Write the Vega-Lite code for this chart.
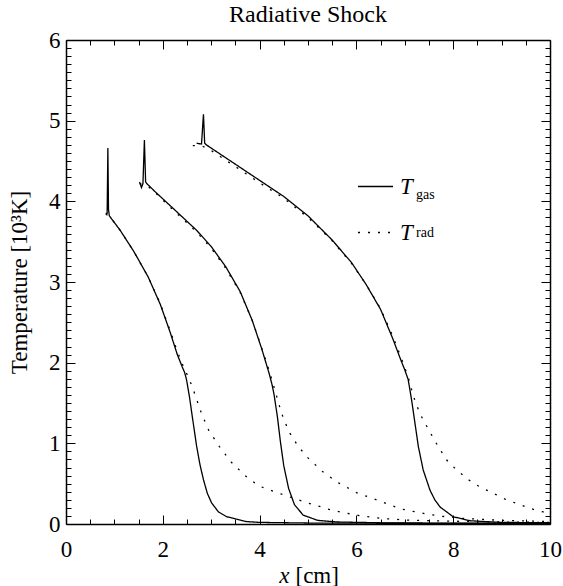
{
  "$schema": "https://vega.github.io/schema/vega-lite/v6.json",
  "width": 484,
  "height": 484,
  "autosize": {"type": "none"},
  "padding": {"left": 66, "top": 40, "right": 13, "bottom": 62},
  "background": "white",
  "title": {
    "text": "Radiative Shock",
    "font": "Liberation Serif",
    "fontSize": 24,
    "fontWeight": "normal",
    "color": "black",
    "baseline": "alphabetic",
    "offset": 14,
    "dy": 31
  },
  "data": {
    "values": [
      {"run": 1, "series": "T_gas", "x": 0.82, "y": 3.85},
      {"run": 1, "series": "T_gas", "x": 0.85, "y": 3.85},
      {"run": 1, "series": "T_gas", "x": 0.865, "y": 4.66},
      {"run": 1, "series": "T_gas", "x": 0.878, "y": 3.9},
      {"run": 1, "series": "T_gas", "x": 0.895, "y": 3.82},
      {"run": 1, "series": "T_gas", "x": 1.12, "y": 3.64},
      {"run": 1, "series": "T_gas", "x": 1.4, "y": 3.38},
      {"run": 1, "series": "T_gas", "x": 1.7, "y": 3.06},
      {"run": 1, "series": "T_gas", "x": 1.95, "y": 2.72},
      {"run": 1, "series": "T_gas", "x": 2.15, "y": 2.38},
      {"run": 1, "series": "T_gas", "x": 2.3, "y": 2.1},
      {"run": 1, "series": "T_gas", "x": 2.4, "y": 1.95},
      {"run": 1, "series": "T_gas", "x": 2.45, "y": 1.88},
      {"run": 1, "series": "T_gas", "x": 2.49, "y": 1.79},
      {"run": 1, "series": "T_gas", "x": 2.55, "y": 1.58},
      {"run": 1, "series": "T_gas", "x": 2.6, "y": 1.37},
      {"run": 1, "series": "T_gas", "x": 2.7, "y": 0.96},
      {"run": 1, "series": "T_gas", "x": 2.77, "y": 0.73},
      {"run": 1, "series": "T_gas", "x": 2.84, "y": 0.55},
      {"run": 1, "series": "T_gas", "x": 2.92, "y": 0.38},
      {"run": 1, "series": "T_gas", "x": 3.01, "y": 0.26},
      {"run": 1, "series": "T_gas", "x": 3.15, "y": 0.15},
      {"run": 1, "series": "T_gas", "x": 3.32, "y": 0.09},
      {"run": 1, "series": "T_gas", "x": 3.73, "y": 0.03},
      {"run": 1, "series": "T_gas", "x": 4.0, "y": 0.02},
      {"run": 1, "series": "T_gas", "x": 5.0, "y": 0.012},
      {"run": 1, "series": "T_gas", "x": 6.0, "y": 0.01},
      {"run": 1, "series": "T_gas", "x": 8.0, "y": 0.008},
      {"run": 1, "series": "T_gas", "x": 10.0, "y": 0.008},

      {"run": 1, "series": "T_rad", "x": 0.82, "y": 3.84},
      {"run": 1, "series": "T_rad", "x": 0.895, "y": 3.82},
      {"run": 1, "series": "T_rad", "x": 1.12, "y": 3.64},
      {"run": 1, "series": "T_rad", "x": 1.4, "y": 3.38},
      {"run": 1, "series": "T_rad", "x": 1.7, "y": 3.06},
      {"run": 1, "series": "T_rad", "x": 1.95, "y": 2.73},
      {"run": 1, "series": "T_rad", "x": 2.15, "y": 2.4},
      {"run": 1, "series": "T_rad", "x": 2.3, "y": 2.14},
      {"run": 1, "series": "T_rad", "x": 2.42, "y": 1.96},
      {"run": 1, "series": "T_rad", "x": 2.52, "y": 1.83},
      {"run": 1, "series": "T_rad", "x": 2.61, "y": 1.7},
      {"run": 1, "series": "T_rad", "x": 2.8, "y": 1.37},
      {"run": 1, "series": "T_rad", "x": 2.95, "y": 1.16},
      {"run": 1, "series": "T_rad", "x": 3.17, "y": 0.96},
      {"run": 1, "series": "T_rad", "x": 3.41, "y": 0.77},
      {"run": 1, "series": "T_rad", "x": 3.7, "y": 0.6},
      {"run": 1, "series": "T_rad", "x": 3.99, "y": 0.47},
      {"run": 1, "series": "T_rad", "x": 4.5, "y": 0.36},
      {"run": 1, "series": "T_rad", "x": 5.0, "y": 0.26},
      {"run": 1, "series": "T_rad", "x": 5.5, "y": 0.17},
      {"run": 1, "series": "T_rad", "x": 6.0, "y": 0.11},
      {"run": 1, "series": "T_rad", "x": 6.5, "y": 0.07},
      {"run": 1, "series": "T_rad", "x": 7.0, "y": 0.05},
      {"run": 1, "series": "T_rad", "x": 8.0, "y": 0.035},
      {"run": 1, "series": "T_rad", "x": 9.0, "y": 0.025},
      {"run": 1, "series": "T_rad", "x": 10.0, "y": 0.02},

      {"run": 2, "series": "T_gas", "x": 1.52, "y": 4.24},
      {"run": 2, "series": "T_gas", "x": 1.56, "y": 4.17},
      {"run": 2, "series": "T_gas", "x": 1.59, "y": 4.22},
      {"run": 2, "series": "T_gas", "x": 1.62, "y": 4.76},
      {"run": 2, "series": "T_gas", "x": 1.645, "y": 4.24},
      {"run": 2, "series": "T_gas", "x": 1.67, "y": 4.22},
      {"run": 2, "series": "T_gas", "x": 1.84, "y": 4.12},
      {"run": 2, "series": "T_gas", "x": 2.2, "y": 3.92},
      {"run": 2, "series": "T_gas", "x": 2.7, "y": 3.64},
      {"run": 2, "series": "T_gas", "x": 3.0, "y": 3.44},
      {"run": 2, "series": "T_gas", "x": 3.3, "y": 3.19},
      {"run": 2, "series": "T_gas", "x": 3.6, "y": 2.88},
      {"run": 2, "series": "T_gas", "x": 3.85, "y": 2.52},
      {"run": 2, "series": "T_gas", "x": 4.05, "y": 2.16},
      {"run": 2, "series": "T_gas", "x": 4.2, "y": 1.86},
      {"run": 2, "series": "T_gas", "x": 4.26, "y": 1.72},
      {"run": 2, "series": "T_gas", "x": 4.3, "y": 1.6},
      {"run": 2, "series": "T_gas", "x": 4.37, "y": 1.32},
      {"run": 2, "series": "T_gas", "x": 4.43, "y": 1.02},
      {"run": 2, "series": "T_gas", "x": 4.5, "y": 0.72},
      {"run": 2, "series": "T_gas", "x": 4.6, "y": 0.44},
      {"run": 2, "series": "T_gas", "x": 4.72, "y": 0.24},
      {"run": 2, "series": "T_gas", "x": 4.9, "y": 0.11},
      {"run": 2, "series": "T_gas", "x": 5.2, "y": 0.045},
      {"run": 2, "series": "T_gas", "x": 5.6, "y": 0.025},
      {"run": 2, "series": "T_gas", "x": 6.5, "y": 0.015},
      {"run": 2, "series": "T_gas", "x": 8.0, "y": 0.01},
      {"run": 2, "series": "T_gas", "x": 10.0, "y": 0.008},

      {"run": 2, "series": "T_rad", "x": 1.52, "y": 4.22},
      {"run": 2, "series": "T_rad", "x": 1.67, "y": 4.2},
      {"run": 2, "series": "T_rad", "x": 1.84, "y": 4.11},
      {"run": 2, "series": "T_rad", "x": 2.2, "y": 3.9},
      {"run": 2, "series": "T_rad", "x": 2.7, "y": 3.62},
      {"run": 2, "series": "T_rad", "x": 3.0, "y": 3.42},
      {"run": 2, "series": "T_rad", "x": 3.3, "y": 3.17},
      {"run": 2, "series": "T_rad", "x": 3.6, "y": 2.87},
      {"run": 2, "series": "T_rad", "x": 3.85, "y": 2.52},
      {"run": 2, "series": "T_rad", "x": 4.05, "y": 2.17},
      {"run": 2, "series": "T_rad", "x": 4.2, "y": 1.9},
      {"run": 2, "series": "T_rad", "x": 4.33, "y": 1.63},
      {"run": 2, "series": "T_rad", "x": 4.45, "y": 1.38},
      {"run": 2, "series": "T_rad", "x": 4.6, "y": 1.15},
      {"run": 2, "series": "T_rad", "x": 4.8, "y": 0.96},
      {"run": 2, "series": "T_rad", "x": 5.0, "y": 0.82},
      {"run": 2, "series": "T_rad", "x": 5.3, "y": 0.65},
      {"run": 2, "series": "T_rad", "x": 5.6, "y": 0.52},
      {"run": 2, "series": "T_rad", "x": 6.0, "y": 0.39},
      {"run": 2, "series": "T_rad", "x": 6.5, "y": 0.28},
      {"run": 2, "series": "T_rad", "x": 6.9, "y": 0.19},
      {"run": 2, "series": "T_rad", "x": 7.3, "y": 0.14},
      {"run": 2, "series": "T_rad", "x": 7.7, "y": 0.1},
      {"run": 2, "series": "T_rad", "x": 8.2, "y": 0.07},
      {"run": 2, "series": "T_rad", "x": 9.0, "y": 0.045},
      {"run": 2, "series": "T_rad", "x": 10.0, "y": 0.03},

      {"run": 3, "series": "T_gas", "x": 2.7, "y": 4.72},
      {"run": 3, "series": "T_gas", "x": 2.8, "y": 4.71},
      {"run": 3, "series": "T_gas", "x": 2.84, "y": 5.08},
      {"run": 3, "series": "T_gas", "x": 2.865, "y": 4.72},
      {"run": 3, "series": "T_gas", "x": 2.9, "y": 4.7},
      {"run": 3, "series": "T_gas", "x": 3.0, "y": 4.66},
      {"run": 3, "series": "T_gas", "x": 3.5, "y": 4.46},
      {"run": 3, "series": "T_gas", "x": 4.0, "y": 4.26},
      {"run": 3, "series": "T_gas", "x": 4.5, "y": 4.06},
      {"run": 3, "series": "T_gas", "x": 5.0, "y": 3.82},
      {"run": 3, "series": "T_gas", "x": 5.5, "y": 3.52},
      {"run": 3, "series": "T_gas", "x": 5.9, "y": 3.24},
      {"run": 3, "series": "T_gas", "x": 6.2, "y": 2.97},
      {"run": 3, "series": "T_gas", "x": 6.5, "y": 2.66},
      {"run": 3, "series": "T_gas", "x": 6.75, "y": 2.3},
      {"run": 3, "series": "T_gas", "x": 6.92, "y": 2.03},
      {"run": 3, "series": "T_gas", "x": 7.0, "y": 1.91},
      {"run": 3, "series": "T_gas", "x": 7.07, "y": 1.79},
      {"run": 3, "series": "T_gas", "x": 7.14, "y": 1.54},
      {"run": 3, "series": "T_gas", "x": 7.21, "y": 1.25},
      {"run": 3, "series": "T_gas", "x": 7.28, "y": 0.96},
      {"run": 3, "series": "T_gas", "x": 7.38, "y": 0.67},
      {"run": 3, "series": "T_gas", "x": 7.52, "y": 0.42},
      {"run": 3, "series": "T_gas", "x": 7.62, "y": 0.3},
      {"run": 3, "series": "T_gas", "x": 7.73, "y": 0.21},
      {"run": 3, "series": "T_gas", "x": 8.0, "y": 0.09},
      {"run": 3, "series": "T_gas", "x": 8.35, "y": 0.04},
      {"run": 3, "series": "T_gas", "x": 9.0, "y": 0.02},
      {"run": 3, "series": "T_gas", "x": 10.0, "y": 0.015},

      {"run": 3, "series": "T_rad", "x": 2.62, "y": 4.69},
      {"run": 3, "series": "T_rad", "x": 2.8, "y": 4.69},
      {"run": 3, "series": "T_rad", "x": 3.0, "y": 4.63},
      {"run": 3, "series": "T_rad", "x": 3.5, "y": 4.43},
      {"run": 3, "series": "T_rad", "x": 4.0, "y": 4.23},
      {"run": 3, "series": "T_rad", "x": 4.5, "y": 4.04},
      {"run": 3, "series": "T_rad", "x": 5.0, "y": 3.8},
      {"run": 3, "series": "T_rad", "x": 5.5, "y": 3.51},
      {"run": 3, "series": "T_rad", "x": 5.9, "y": 3.23},
      {"run": 3, "series": "T_rad", "x": 6.2, "y": 2.97},
      {"run": 3, "series": "T_rad", "x": 6.5, "y": 2.67},
      {"run": 3, "series": "T_rad", "x": 6.75, "y": 2.33},
      {"run": 3, "series": "T_rad", "x": 6.92, "y": 2.07},
      {"run": 3, "series": "T_rad", "x": 7.07, "y": 1.82},
      {"run": 3, "series": "T_rad", "x": 7.18, "y": 1.58},
      {"run": 3, "series": "T_rad", "x": 7.31, "y": 1.37},
      {"run": 3, "series": "T_rad", "x": 7.49, "y": 1.17},
      {"run": 3, "series": "T_rad", "x": 7.69, "y": 0.96},
      {"run": 3, "series": "T_rad", "x": 7.87, "y": 0.79},
      {"run": 3, "series": "T_rad", "x": 8.07, "y": 0.67},
      {"run": 3, "series": "T_rad", "x": 8.31, "y": 0.55},
      {"run": 3, "series": "T_rad", "x": 8.55, "y": 0.46},
      {"run": 3, "series": "T_rad", "x": 8.83, "y": 0.38},
      {"run": 3, "series": "T_rad", "x": 9.1, "y": 0.3},
      {"run": 3, "series": "T_rad", "x": 9.38, "y": 0.24},
      {"run": 3, "series": "T_rad", "x": 9.66, "y": 0.18},
      {"run": 3, "series": "T_rad", "x": 9.86, "y": 0.15},
      {"run": 3, "series": "T_rad", "x": 10.0, "y": 0.13}
    ]
  },
  "layer": [
    {
      "mark": {"type": "line", "color": "black", "strokeWidth": 1.3, "clip": true},
      "encoding": {
        "x": {
          "field": "x", "type": "quantitative",
          "scale": {"domain": [0, 10], "nice": false, "zero": false},
          "axis": {
            "orient": "bottom", "values": [0, 2, 4, 6, 8, 10], "tickSize": -9,
            "labels": true, "labelPadding": 23, "labelBaseline": "top",
            "title": "x", "titleFontStyle": "italic", "titleAlign": "right",
            "titleAnchor": null, "titleX": 223, "titleY": 58, "titleBaseline": "alphabetic"
          }
        },
        "y": {
          "field": "y", "type": "quantitative",
          "scale": {"domain": [0, 6], "nice": false, "zero": false},
          "axis": {
            "orient": "left", "values": [0, 1, 2, 3, 4, 5, 6], "tickSize": -9,
            "labels": true, "labelPadding": 15, "labelBaseline": "middle",
            "encode": {"labels": {"update": {"dy": {"signal": "datum.value === 0 ? -6 : datum.value === 6 ? 7 : 3"}}}},
            "title": "Temperature [10³K]", "titlePadding": 17
          }
        },
        "detail": {"field": "run", "type": "nominal"},
        "strokeDash": {
          "field": "series", "type": "nominal",
          "scale": {"domain": ["T_gas", "T_rad"], "range": [[1, 0], [2, 8]]},
          "legend": {
            "orient": "none", "legendX": 291, "legendY": 128,
            "title": null, "padding": 0,
            "symbolType": "stroke", "symbolSize": 1225, "symbolStrokeWidth": 1.3,
            "symbolStrokeColor": "black",
            "labelExpr": "'T'", "labelFont": "Liberation Serif", "labelFontStyle": "italic",
            "labelFontSize": 23, "labelColor": "black", "labelOffset": 6,
            "rowPadding": 15
          }
        }
      }
    },
    {
      "mark": {"type": "point", "opacity": 0},
      "encoding": {
        "x": {
          "field": "x", "type": "quantitative",
          "scale": {"domain": [0, 10], "nice": false, "zero": false},
          "axis": {
            "orient": "bottom",
            "values": [0.5, 1, 1.5, 2.5, 3, 3.5, 4.5, 5, 5.5, 6.5, 7, 7.5, 8.5, 9, 9.5],
            "tickSize": -5, "labels": false, "domain": false,
            "title": "[cm]", "titleAlign": "left", "titleAnchor": null,
            "titleX": 229, "titleY": 58, "titleBaseline": "alphabetic"
          }
        },
        "y": {
          "field": "y", "type": "quantitative",
          "scale": {"domain": [0, 6], "nice": false, "zero": false},
          "axis": {
            "orient": "left",
            "values": [0.1,0.2,0.3,0.4,0.5,0.6,0.7,0.8,0.9,1.1,1.2,1.3,1.4,1.5,1.6,1.7,1.8,1.9,2.1,2.2,2.3,2.4,2.5,2.6,2.7,2.8,2.9,3.1,3.2,3.3,3.4,3.5,3.6,3.7,3.8,3.9,4.1,4.2,4.3,4.4,4.5,4.6,4.7,4.8,4.9,5.1,5.2,5.3,5.4,5.5,5.6,5.7,5.8,5.9],
            "tickSize": -5, "labels": false, "domain": false, "title": null
          }
        },
        "shape": {
          "field": "series", "type": "nominal",
          "legend": {
            "orient": "none", "legendX": 336, "legendY": 148,
            "title": null, "padding": 0,
            "symbolSize": 1, "symbolOpacity": 0,
            "labelExpr": "datum.value === 'T_gas' ? 'gas' : 'rad'",
            "labelFont": "Liberation Serif", "labelFontSize": 14, "labelColor": "black",
            "labelOffset": 0, "rowPadding": 24
          }
        }
      }
    },
    {
      "mark": {"type": "point", "opacity": 0},
      "encoding": {
        "x": {
          "field": "x", "type": "quantitative",
          "scale": {"domain": [0, 10], "nice": false, "zero": false},
          "axis": {"orient": "top", "values": [0, 2, 4, 6, 8, 10], "tickSize": -9, "labels": false, "title": null}
        },
        "y": {
          "field": "y", "type": "quantitative",
          "scale": {"domain": [0, 6], "nice": false, "zero": false},
          "axis": {"orient": "right", "values": [0, 1, 2, 3, 4, 5, 6], "tickSize": -9, "labels": false, "title": null}
        }
      }
    },
    {
      "mark": {"type": "point", "opacity": 0},
      "encoding": {
        "x": {
          "field": "x", "type": "quantitative",
          "scale": {"domain": [0, 10], "nice": false, "zero": false},
          "axis": {
            "orient": "top",
            "values": [0.5, 1, 1.5, 2.5, 3, 3.5, 4.5, 5, 5.5, 6.5, 7, 7.5, 8.5, 9, 9.5],
            "tickSize": -5, "labels": false, "domain": false, "title": null
          }
        },
        "y": {
          "field": "y", "type": "quantitative",
          "scale": {"domain": [0, 6], "nice": false, "zero": false},
          "axis": {
            "orient": "right",
            "values": [0.1,0.2,0.3,0.4,0.5,0.6,0.7,0.8,0.9,1.1,1.2,1.3,1.4,1.5,1.6,1.7,1.8,1.9,2.1,2.2,2.3,2.4,2.5,2.6,2.7,2.8,2.9,3.1,3.2,3.3,3.4,3.5,3.6,3.7,3.8,3.9,4.1,4.2,4.3,4.4,4.5,4.6,4.7,4.8,4.9,5.1,5.2,5.3,5.4,5.5,5.6,5.7,5.8,5.9],
            "tickSize": -5, "labels": false, "domain": false, "title": null
          }
        }
      }
    }
  ],
  "resolve": {"axis": {"x": "independent", "y": "independent"}},
  "config": {
    "font": "Liberation Serif",
    "view": {"stroke": null},
    "axis": {
      "grid": false,
      "domainColor": "black", "domainWidth": 1.5,
      "tickColor": "black", "tickWidth": 1,
      "labelFont": "Liberation Serif", "labelFontSize": 23, "labelColor": "black",
      "labelFlush": false, "labelOverlap": false, "labelAngle": 0,
      "titleFont": "Liberation Serif", "titleFontSize": 23, "titleFontWeight": "normal",
      "titleColor": "black"
    },
    "legend": {"labelLimit": 0}
  }
}
